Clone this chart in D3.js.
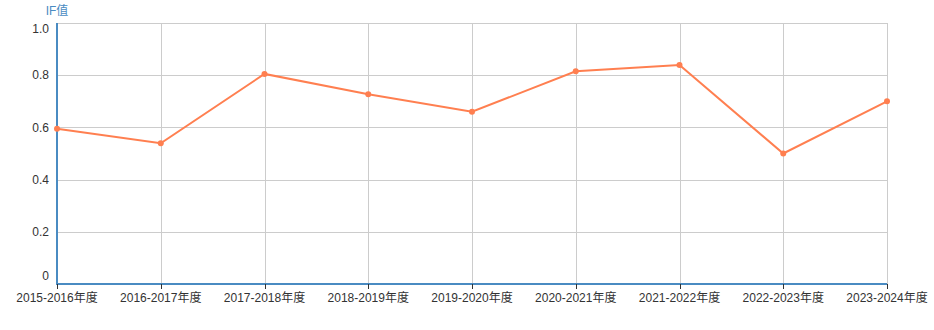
<!DOCTYPE html>
<html><head><meta charset="utf-8">
<script src="https://cdn.jsdelivr.net/npm/d3@7/dist/d3.min.js"></script>
<style>body{margin:0;background:#fff}svg{display:block;font-family:"Liberation Sans","Noto Sans CJK SC",sans-serif}</style>
</head><body><svg id="c" width="934" height="330"></svg>
<script>
const categories = ["2015-2016年度","2016-2017年度","2017-2018年度","2018-2019年度","2019-2020年度","2020-2021年度","2021-2022年度","2022-2023年度","2023-2024年度"];
const ifValues = [0.595, 0.539, 0.805, 0.727, 0.660, 0.815, 0.839, 0.500, 0.700];
const yTicks = [0, 0.2, 0.4, 0.6, 0.8, 1.0];
const yTickLabels = ["0","0.2","0.4","0.6","0.8","1.0"];
const yTitle = "IF值";

(function(){
const svg = d3.select("#c");
const mL = 57, mR = 887, mT = 23, mB = 284;
const x = d3.scalePoint().domain(categories).range([mL, mR]);
const y = d3.scaleLinear().domain([0, 1]).range([mB, mT]);

// grid
svg.append("g").selectAll("line").data(yTicks.slice(1)).join("line")
  .attr("x1", mL).attr("x2", mR).attr("y1", d => Math.round(y(d))+0.5).attr("y2", d => Math.round(y(d))+0.5)
  .attr("stroke", "#ccc").attr("stroke-width", 1);
svg.append("g").selectAll("line").data(categories.slice(1)).join("line")
  .attr("x1", d => Math.round(x(d))+0.5).attr("x2", d => Math.round(x(d))+0.5).attr("y1", mT).attr("y2", mB)
  .attr("stroke", "#ccc").attr("stroke-width", 1);

// axes lines
const axisColor = "#4a8bc2";
svg.append("line").attr("x1", mL).attr("x2", mL).attr("y1", mT).attr("y2", mB+1)
  .attr("stroke", axisColor).attr("stroke-width", 2);
svg.append("line").attr("x1", mL).attr("x2", mR).attr("y1", mB).attr("y2", mB)
  .attr("stroke", axisColor).attr("stroke-width", 2);

// x ticks
svg.append("g").selectAll("line").data(categories).join("line")
  .attr("x1", d => Math.round(x(d))+0.5).attr("x2", d => Math.round(x(d))+0.5).attr("y1", mB).attr("y2", mB+5)
  .attr("stroke", "#333").attr("stroke-width", 1);

// y labels
svg.append("g").selectAll("text").data(yTicks).join("text")
  .attr("x", mL-8).attr("y", (d,i) => y(d) + (i===0 ? -8 : (i===yTicks.length-1 ? 6 : 0)))
  .attr("dy", "0.35em").attr("text-anchor", "end")
  .attr("fill", "#333").attr("font-size", 12).text((d,i) => yTickLabels[i]);

// x labels
svg.append("g").selectAll("text").data(categories).join("text")
  .attr("x", d => x(d)).attr("y", mB+18).attr("text-anchor", "middle")
  .attr("fill", "#333").attr("font-size", 12).text(d => d);

// title
svg.append("text").attr("x", mL).attr("y", 15).attr("text-anchor", "middle")
  .attr("fill", axisColor).attr("font-size", 12).text(yTitle);

// line
const line = d3.line().x((d,i) => x(categories[i])).y(d => y(d));
svg.append("path").datum(ifValues).attr("d", line).attr("fill", "none")
  .attr("stroke", "#ff7f50").attr("stroke-width", 2);
svg.append("g").selectAll("circle").data(ifValues).join("circle")
  .attr("cx", (d,i) => x(categories[i])).attr("cy", d => y(d)).attr("r", 3)
  .attr("fill", "#ff7f50");
})();
</script></body></html>
